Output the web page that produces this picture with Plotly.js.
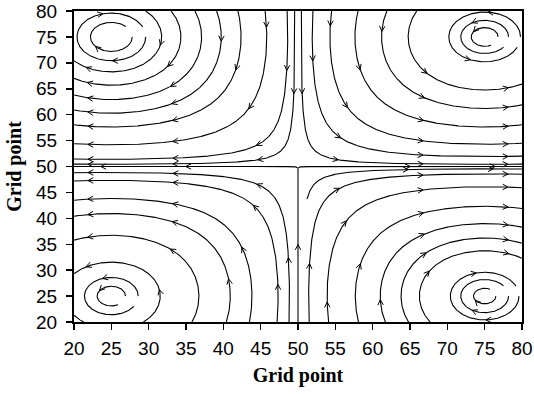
<!DOCTYPE html>
<html><head><meta charset="utf-8">
<script src="https://cdn.plot.ly/plotly-3.0.1.min.js"></script>
<style>html,body{margin:0;padding:0;background:#fff;}#chart{width:534px;height:394px;}</style>
</head><body><div id="chart"></div>
<script>
// ---------------- data ----------------
const xTicks = [20, 25, 30, 35, 40, 45, 50, 55, 60, 65, 70, 75, 80];
const yTicks = [20, 25, 30, 35, 40, 45, 50, 55, 60, 65, 70, 75, 80];
const xTitle = 'Grid point';
const yTitle = 'Grid point';
// cellular vortex field: stream function psi = sin(2*pi*x/P) * sin(2*pi*y/P)
const fieldPeriod = 100;
// streamlines that cross the plot border: crossing point (x, y)
const edgeX = [20, 20, 20, 20, 20, 20, 20, 20,
               80, 80, 80, 80, 80, 80,
               20, 20, 20, 20, 20, 20, 20,
               51.5, 54.1, 58.1, 61.7, 64.8, 67.7];
const edgeY = [50.45, 51.45, 54.4, 58.05, 60.9, 63.8, 67.0, 70.4,
               50.45, 52.0, 54.5, 58.05, 61.9, 65.9,
               48.8, 47.2, 43.5, 40.4, 35.8, 29.3, 21.3,
               20, 20, 20, 20, 20, 20];
// closed circulations around the four vortices: centre, radius, fraction of a turn drawn
const ringCx = [25, 25, 75, 75, 75, 25, 25, 75, 75, 75];
const ringCy = [75, 75, 75, 75, 75, 25, 25, 25, 25, 25];
const ringR  = [2.8, 4.6, 1.8, 3.2, 4.8, 1.9, 3.6, 1.5, 3.2, 4.6];
const ringTurn = [0.9, 0.95, 0.85, 0.92, 0.95, 0.85, 0.93, 0.85, 0.92, 0.95];
// streamlines starting inside the plot: start point and length (grid units)
const innerX = [50, 49.9, 50.1, 51.2];
const innerY = [20, 49.75, 49.75, 43.7];
const innerLen = [29.9, 40, 40, 40];

// ---------------- geometry ----------------
const W = 534, H = 394, mL = 74, mR = 12, mT = 11, mB = 72;
const X0 = 20, X1 = 80, Y0 = 20, Y1 = 80;
const sx = (W - mL - mR) / (X1 - X0), sy = (H - mT - mB) / (Y1 - Y0);
const kf = 2 * Math.PI / fieldPeriod;

function vel(x, y) {
  return [kf * Math.sin(kf * x) * Math.cos(kf * y), -kf * Math.cos(kf * x) * Math.sin(kf * y)];
}
function dirPx(x, y, sgn) {
  const [u, v] = vel(x, y);
  const a = u * sx, b = v * sy;
  const m = Math.hypot(a, b) || 1e-12;
  return [sgn * a / m / sx, sgn * b / m / sy];
}
function inside(x, y) {
  return x >= X0 - 1e-9 && x <= X1 + 1e-9 && y >= Y0 - 1e-9 && y <= Y1 + 1e-9;
}
function integrate(x, y, sgn, opt) {
  const h = 0.5;
  const pts = [[x, y]];
  let len = 0, ang = 0;
  let prevA = opt.cx != null ? Math.atan2((y - opt.cy) * sy, (x - opt.cx) * sx) : 0;
  for (let i = 0; i < 30000; i++) {
    const k1 = dirPx(x, y, sgn);
    const k2 = dirPx(x + k1[0] * h / 2, y + k1[1] * h / 2, sgn);
    const k3 = dirPx(x + k2[0] * h / 2, y + k2[1] * h / 2, sgn);
    const k4 = dirPx(x + k3[0] * h, y + k3[1] * h, sgn);
    const nx = x + h * (k1[0] + 2 * k2[0] + 2 * k3[0] + k4[0]) / 6;
    const ny = y + h * (k1[1] + 2 * k2[1] + 2 * k3[1] + k4[1]) / 6;
    if (!inside(nx, ny)) {
      let t = 1;
      if (nx < X0) t = Math.min(t, (X0 - x) / (nx - x));
      if (nx > X1) t = Math.min(t, (X1 - x) / (nx - x));
      if (ny < Y0) t = Math.min(t, (Y0 - y) / (ny - y));
      if (ny > Y1) t = Math.min(t, (Y1 - y) / (ny - y));
      t = Math.max(0, t);
      pts.push([x + t * (nx - x), y + t * (ny - y)]);
      break;
    }
    len += Math.hypot(nx - x, ny - y);
    x = nx; y = ny;
    pts.push([x, y]);
    if (opt.maxLen && len >= opt.maxLen) break;
    if (opt.cx != null) {
      const a = Math.atan2((y - opt.cy) * sy, (x - opt.cx) * sx);
      let d = a - prevA;
      if (d > Math.PI) d -= 2 * Math.PI;
      if (d < -Math.PI) d += 2 * Math.PI;
      ang += d; prevA = a;
      if (Math.abs(ang) >= opt.turn * 2 * Math.PI) break;
    }
  }
  return pts;
}

const lines = [];
edgeX.forEach((ex, i) => {
  const ey = edgeY[i];
  const back = integrate(ex, ey, -1, {});
  const fwd = integrate(ex, ey, 1, {});
  const pts = back.slice().reverse().concat(fwd.slice(1));
  lines.push({pts: pts, fromEnd: true});
});
ringCx.forEach((cx, i) => {
  const pts = integrate(cx + ringR[i], ringCy[i], 1, {cx: cx, cy: ringCy[i], turn: ringTurn[i]});
  lines.push({pts: pts, fromEnd: false});
});
innerX.forEach((x, i) => {
  const pts = integrate(x, innerY[i], 1, {maxLen: innerLen[i]});
  lines.push({pts: pts, fromEnd: false, first: 200});
});

// ---------------- arrow heads ----------------
const arrowSpacing = 85, arrowLen = 6, arrowHalf = 27 * Math.PI / 180;
const lx = [], ly = [], ax = [], ay = [];
lines.forEach(L => {
  const p = L.pts;
  if (p.length < 2) return;
  const cum = [0];
  for (let i = 1; i < p.length; i++) {
    cum.push(cum[i - 1] + Math.hypot((p[i][0] - p[i - 1][0]) * sx, (p[i][1] - p[i - 1][1]) * sy));
  }
  p.forEach(q => { lx.push(q[0]); ly.push(q[1]); });
  lx.push(null); ly.push(null);
  const total = cum[cum.length - 1];
  const spots = [];
  if (L.fromEnd) {
    for (let s = total - 14; s > 10; s -= arrowSpacing) spots.push(s);
  } else {
    const start = L.first || 45;
    for (let s = Math.min(start, total * 0.5); s < total - 8; s += arrowSpacing) spots.push(s);
  }
  spots.forEach(s => {
    let j = 1;
    while (j < cum.length - 1 && cum[j] < s) j++;
    const f = (s - cum[j - 1]) / Math.max(1e-9, cum[j] - cum[j - 1]);
    const X = (p[j - 1][0] + f * (p[j][0] - p[j - 1][0])) * sx;
    const Y = (p[j - 1][1] + f * (p[j][1] - p[j - 1][1])) * sy;
    let tx = (p[j][0] - p[j - 1][0]) * sx, ty = (p[j][1] - p[j - 1][1]) * sy;
    const m = Math.hypot(tx, ty) || 1; tx /= m; ty /= m;
    const b = (sgn) => {
      const c = Math.cos(sgn * arrowHalf), sn = Math.sin(sgn * arrowHalf);
      const rx = -(tx * c - ty * sn), ry = -(tx * sn + ty * c);
      return [(X + arrowLen * rx) / sx, (Y + arrowLen * ry) / sy];
    };
    const b1 = b(1), b2 = b(-1);
    ax.push(b1[0], X / sx, b2[0], null);
    ay.push(b1[1], Y / sy, b2[1], null);
  });
});

const traces = [
  {type: 'scatter', mode: 'lines', x: lx, y: ly, line: {color: '#000', width: 1.1}, hoverinfo: 'skip', cliponaxis: true},
  {type: 'scatter', mode: 'lines', x: ax, y: ay, line: {color: '#000', width: 1}, hoverinfo: 'skip', cliponaxis: false}
];

const tickFont = {family: 'Liberation Sans, Arial, sans-serif', size: 19, color: '#000'};
const titleFont = {family: 'Liberation Serif, Times New Roman, serif', size: 20, color: '#000', weight: 'bold'};
const axisCommon = {
  tickmode: 'array', ticks: 'outside', ticklen: 6, tickwidth: 1.5, tickcolor: '#000',
  showline: true, linewidth: 2, linecolor: '#000', mirror: true, ticklabeloverflow: 'allow',
  showgrid: false, zeroline: false, tickfont: tickFont, automargin: false
};
const layout = {
  width: W, height: H,
  margin: {l: mL, r: mR, t: mT, b: mB, pad: 0},
  paper_bgcolor: '#fff', plot_bgcolor: '#fff', showlegend: false,
  xaxis: Object.assign({}, axisCommon, {range: [X0, X1], tickvals: xTicks, ticktext: xTicks.map(String),
    ticklabelstandoff: 2, title: {text: xTitle, font: titleFont, standoff: 10}}),
  yaxis: Object.assign({}, axisCommon, {range: [Y0, Y1], tickvals: yTicks, ticktext: yTicks.map(String),
    ticklabelstandoff: 5, title: {text: yTitle, font: titleFont, standoff: 9}})
};
Plotly.newPlot('chart', traces, layout, {staticPlot: true, displayModeBar: false});
</script>
</body></html>
